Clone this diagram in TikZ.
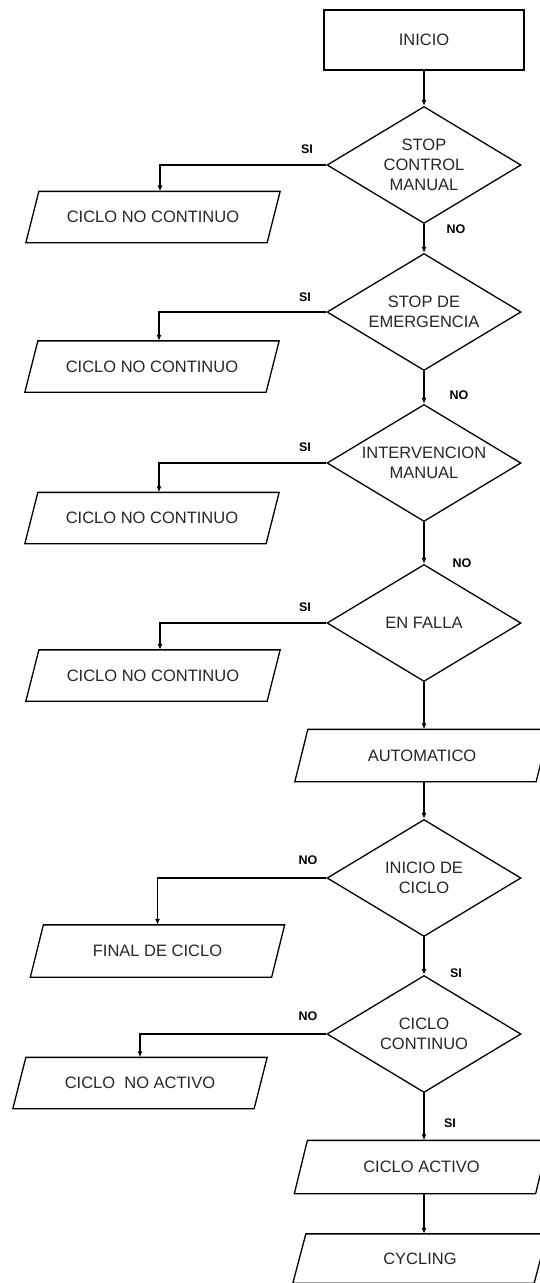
\documentclass[tikz,border=0pt]{standalone}
\usepackage{fontspec}
\setmainfont{Liberation Sans}
\usetikzlibrary{arrows.meta,shapes.geometric}

\begin{document}
\begin{tikzpicture}[x=1pt,y=-1pt,
  line width=1.3pt,
  every node/.style={font=\fontsize{16.5}{20}\selectfont, text=black!85, align=center},
  startbox/.style={draw, rectangle, minimum width=200pt, minimum height=60pt, inner sep=0pt},
  decision/.style={draw, diamond, shape aspect=1.66, inner sep=0pt,
                   minimum width=194pt, minimum height=117pt},
  iobox/.style={rectangle, minimum width=240pt, minimum height=50pt, inner sep=0pt},
  flow/.style={-{Latex[length=6pt,width=5pt]}},
  tag/.style={font=\fontsize{12.5}{14}\selectfont\bfseries, text=black}
]
\useasboundingbox (0,0) rectangle (539,1283);

% main column
\node[startbox] (ini) at (424,40) {INICIO};
\node[decision] (d1) at (424,165) {STOP\\CONTROL\\MANUAL};
\node[decision] (d2) at (424,312) {STOP DE\\EMERGENCIA};
\node[decision] (d3) at (424,463) {INTERVENCION\\MANUAL};
\node[decision] (d4) at (424,623) {EN FALLA};
\node[iobox, minimum height=51pt] (auto) at (422,755.5) {AUTOMATICO};
\node[decision] (d5) at (424,878) {INICIO DE\\CICLO};
\node[decision] (d6) at (424,1034) {CICLO\\CONTINUO};
\node[iobox, minimum height=52pt] (act) at (421.5,1167) {CICLO ACTIVO};
\node[iobox, minimum height=48pt] (cyc) at (420,1258.5) {CYCLING};

% side outputs
\node[iobox] (b1) at (153,217) {CICLO NO CONTINUO};
\node[iobox] (b2) at (152,366.5) {CICLO NO CONTINUO};
\node[iobox] (b3) at (152,518) {CICLO NO CONTINUO};
\node[iobox] (b4) at (153,675.5) {CICLO NO CONTINUO};
\node[iobox, minimum height=51pt] (fin) at (157.5,951) {FINAL DE CICLO};
\node[iobox] (nact) at (140,1083) {CICLO~ NO ACTIVO};

% parallelogram outlines for the data boxes
\foreach \n in {auto,act,cyc,b1,b2,b3,b4,fin,nact}{
  \draw ([xshift=6.5pt]\n.north west) -- ([xshift=6.5pt]\n.north east)
     -- ([xshift=-6.5pt]\n.south east) -- ([xshift=-6.5pt]\n.south west) -- cycle;
}

% vertical flow
\draw[flow] (ini.south) -- (ini.south |- d1.north);
\draw[flow] (d1.south) -- (d2.north);
\draw[flow] (d2.south) -- (d3.north);
\draw[flow] (d3.south) -- (d4.north);
\draw[flow] (d4.south) -- (d4.south |- auto.north);
\draw[flow] (d4.south |- auto.south) -- (d5.north);
\draw[flow] (d5.south) -- (d6.north);
\draw[flow] (d6.south) -- (d6.south |- act.north);
\draw[flow] (d6.south |- act.south) -- (d6.south |- cyc.north);

% side branches
\draw[flow] (d1.west) -| ([xshift=7pt]b1.north);
\draw[flow] (d2.west) -| ([xshift=7pt]b2.north);
\draw[flow] (d3.west) -| ([xshift=7pt]b3.north);
\draw[flow] (d4.west) -| ([xshift=7pt]b4.north);
\draw[flow] (d5.west) -| (fin.north);
\draw[flow] (d6.west) -| (nact.north);

% branch labels
\node[tag] (s1) at (307,149) {SI};
\node[tag] (s2) at (305,297) {SI};
\node[tag] (s3) at (305,447) {SI};
\node[tag] (s4) at (305,607) {SI};
\node[tag] (n5) at (308,860) {NO};
\node[tag] (n6) at (308,1016) {NO};
\node[tag] (n1) at (456,229) {NO};
\node[tag] (n2) at (459,395) {NO};
\node[tag] (n3) at (462,563) {NO};
\node[tag] (s5) at (456,973) {SI};
\node[tag] (s6) at (450,1123) {SI};
\end{tikzpicture}
\end{document}
